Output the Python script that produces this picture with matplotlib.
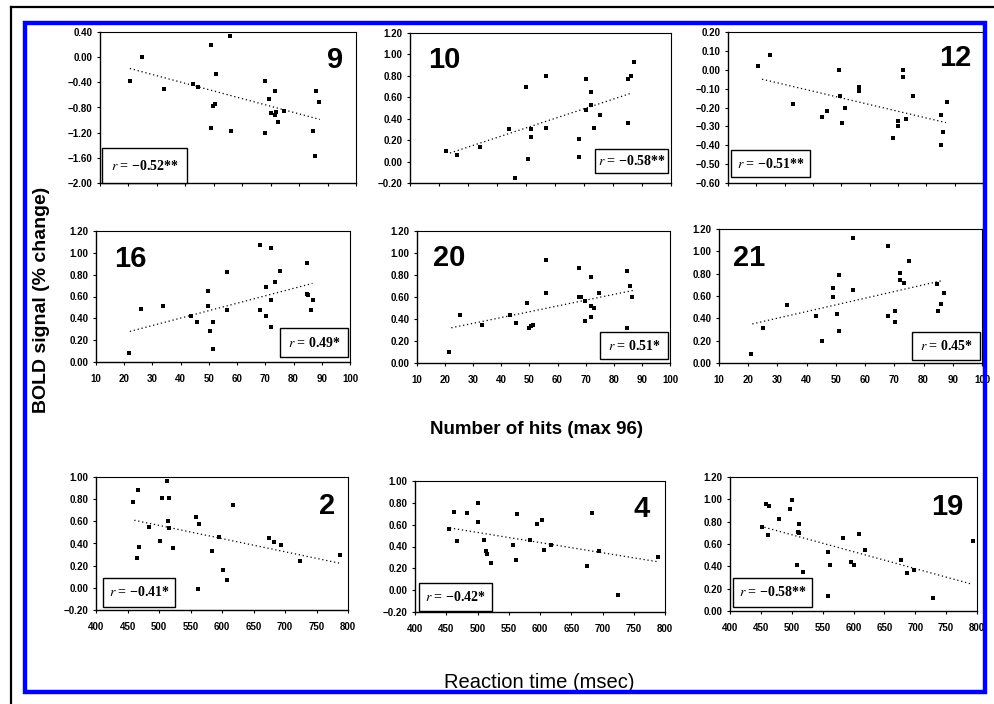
import numpy as np
import matplotlib.pyplot as plt
from matplotlib.patches import Rectangle
from matplotlib.lines import Line2D

# ── data ─────────────────────────────────────────────────────────────────────
# top two rows: number of hits (x) vs BOLD signal (y)
p9_x = [20.5, 24.6, 32.5, 42.6, 44.6, 48.9, 50.7, 55.7, 49.6, 50.4, 49.0, 55.9, 68.0,
        71.5, 69.5, 70.0, 71.5, 72.0, 72.7, 74.8, 68.0, 84.8, 85.5, 86.0, 87.0]
p9_y = [-0.38, 0.00, -0.50, -0.42, -0.48, 0.19, -0.26, 0.33, -0.78, -0.74, -1.13, -1.17, -0.38,
        -0.53, -0.66, -0.89, -0.92, -0.87, -1.03, -0.86, -1.20, -1.17, -1.57, -0.53, -0.71]
p9_fit = ([20.5, 87.3], [-0.18, -0.99])

p10_x = [22.4, 26.3, 34.1, 44.1, 46.2, 50.0, 50.8, 51.6, 51.7, 56.9, 56.9, 68.4,
         68.4, 70.7, 70.7, 72.4, 72.4, 73.4, 75.5, 85.2, 85.2, 86.2, 87.2]
p10_y = [0.10, 0.06, 0.14, 0.30, -0.15, 0.70, 0.02, 0.30, 0.23, 0.80, 0.31, 0.21,
         0.04, 0.77, 0.48, 0.65, 0.53, 0.31, 0.43, 0.36, 0.77, 0.80, 0.93]
p10_fit = ([23.8, 86.5], [0.08, 0.64])

p12_x = [20.7, 24.9, 33.1, 43.1, 44.9, 49.0, 49.6, 50.2, 51.4, 56.2, 56.3, 68.1,
         69.9, 69.9, 71.9, 71.9, 72.8, 75.2, 85.1, 85.1, 86.0, 87.2]
p12_y = [0.02, 0.08, -0.18, -0.25, -0.22, 0.00, -0.14, -0.28, -0.20, -0.09, -0.11, -0.36,
         -0.27, -0.30, 0.00, -0.04, -0.26, -0.14, -0.24, -0.40, -0.33, -0.17]
p12_fit = ([22.0, 86.9], [-0.05, -0.28])

p16_x = [21.8, 25.8, 33.8, 43.5, 45.7, 49.6, 49.6, 50.4, 51.6, 51.3, 56.5, 56.3, 68.1,
         68.1, 70.2, 70.2, 71.9, 71.9, 71.9, 73.4, 75.2, 84.9, 84.9, 85.2, 86.2, 87.0]
p16_y = [0.08, 0.49, 0.51, 0.42, 0.37, 0.65, 0.51, 0.28, 0.37, 0.12, 0.82, 0.48, 1.07,
         0.48, 0.69, 0.42, 1.04, 0.57, 0.32, 0.73, 0.83, 0.91, 0.62, 0.61, 0.48, 0.57]
p16_fit = ([22.0, 86.7], [0.28, 0.72])

p20_x = [21.4, 25.2, 33.3, 43.0, 45.2, 49.0, 49.9, 50.5, 51.1, 55.8, 55.8, 67.7, 67.7,
         68.2, 69.7, 69.7, 71.8, 71.8, 71.8, 73.0, 74.9, 84.6, 84.6, 85.8, 86.6]
p20_y = [0.10, 0.44, 0.35, 0.44, 0.36, 0.55, 0.32, 0.34, 0.35, 0.94, 0.64, 0.86, 0.60,
         0.60, 0.56, 0.38, 0.78, 0.52, 0.42, 0.50, 0.64, 0.84, 0.32, 0.70, 0.60]
p20_fit = ([22.2, 86.9], [0.32, 0.66])

p21_x = [21.1, 25.1, 33.3, 43.2, 45.1, 48.9, 48.9, 50.3, 51.2, 51.2, 56.0, 56.0, 68.0,
         68.0, 70.3, 70.3, 71.8, 71.8, 73.2, 74.9, 84.6, 84.8, 86.0, 87.1]
p21_y = [0.08, 0.31, 0.52, 0.42, 0.20, 0.67, 0.59, 0.44, 0.79, 0.29, 1.12, 0.65, 1.05,
         0.42, 0.47, 0.37, 0.81, 0.74, 0.72, 0.91, 0.71, 0.47, 0.53, 0.63]
p21_fit = ([21.4, 86.7], [0.35, 0.74])

# bottom row: reaction time (x) vs BOLD signal (y)
p2_x = [459.2, 467.1, 464.5, 468.2, 484.6, 501.5, 504.1, 512.1, 515.8, 514.7, 516.3, 522.6, 558.6,
        563.8, 562.3, 584.5, 595.6, 601.9, 607.2, 617.8, 674.8, 682.2, 694.4, 723.5, 786.9]
p2_y = [0.77, 0.88, 0.27, 0.37, 0.55, 0.42, 0.81, 0.96, 0.81, 0.60, 0.54, 0.36, 0.64,
        0.58, -0.01, 0.33, 0.46, 0.16, 0.07, 0.75, 0.45, 0.41, 0.39, 0.24, 0.30]
p2_fit = ([460.8, 788.5], [0.61, 0.22])

p4_x = [454.9, 462.4, 466.7, 482.7, 501.3, 500.3, 510.4, 513.1, 514.7, 521.6, 557.3, 561.6,
        562.7, 584.0, 594.7, 602.7, 606.9, 617.6, 674.7, 683.7, 694.9, 725.3, 789.3]
p4_y = [0.56, 0.72, 0.45, 0.71, 0.80, 0.62, 0.46, 0.36, 0.33, 0.25, 0.41, 0.28,
        0.70, 0.46, 0.61, 0.64, 0.37, 0.41, 0.22, 0.71, 0.36, -0.04, 0.30]
p4_fit = ([456.0, 788.7], [0.57, 0.26])

p19_x = [452.4, 458.4, 463.8, 462.2, 479.5, 497.3, 500.0, 509.2, 509.7, 512.4, 512.4, 518.9, 558.4,
         558.4, 562.2, 583.8, 595.7, 601.6, 608.1, 618.9, 677.3, 686.5, 698.4, 728.6, 793.5]
p19_y = [0.75, 0.96, 0.94, 0.68, 0.82, 0.91, 0.99, 0.41, 0.71, 0.78, 0.70, 0.35, 0.53,
         0.13, 0.41, 0.65, 0.44, 0.41, 0.69, 0.55, 0.46, 0.34, 0.37, 0.12, 0.63]
p19_fit = ([455.7, 791.9], [0.75, 0.24])

region_ids = ["9", "10", "12", "16", "20", "21", "2", "4", "19"]
r_labels = ["−0.52**", "−0.58**", "−0.51**", "0.49*", "0.51*", "0.45*",
            "−0.41*", "−0.42*", "−0.58**"]

yticks_9 = [0.40, 0.00, -0.40, -0.80, -1.20, -1.60, -2.00]
yticks_10 = [-0.20, 0.00, 0.20, 0.40, 0.60, 0.80, 1.00, 1.20]
yticks_12 = [0.20, 0.10, 0.00, -0.10, -0.20, -0.30, -0.40, -0.50, -0.60]
yticks_row2 = [0.00, 0.20, 0.40, 0.60, 0.80, 1.00, 1.20]
yticks_2 = [-0.20, 0.00, 0.20, 0.40, 0.60, 0.80, 1.00]
yticks_19 = [0.00, 0.20, 0.40, 0.60, 0.80, 1.00, 1.20]
hits_ticks = list(range(10, 101, 10))
rt_ticks = list(range(400, 801, 50))

# ── layout (pixels of the 994x704 canvas) ────────────────────────────────────
W, H = 994, 704
panels = [
    # data, fit, yticks, xticks, xlabels?, axes box (l, t, r, b), number pos, r-box (l, t, r, b)
    (p9_x, p9_y, p9_fit, yticks_9, hits_ticks, False, (100, 32, 356, 183), (335, 60), (102, 148, 187, 183)),
    (p10_x, p10_y, p10_fit, yticks_10, hits_ticks, False, (410, 33, 671, 183), (444, 60), (595, 149, 668, 173)),
    (p12_x, p12_y, p12_fit, yticks_12, hits_ticks, False, (728, 32, 983, 183), (955, 58), (731, 150, 810, 177)),
    (p16_x, p16_y, p16_fit, yticks_row2, hits_ticks, True, (96, 231, 350, 362), (130, 259), (280, 328, 348, 357)),
    (p20_x, p20_y, p20_fit, yticks_row2, hits_ticks, True, (417, 231, 670, 363), (449, 258), (600, 332, 668, 359)),
    (p21_x, p21_y, p21_fit, yticks_row2, hits_ticks, True, (719, 229, 982, 363), (749, 258), (912, 332, 980, 360)),
    (p2_x, p2_y, p2_fit, yticks_2, rt_ticks, True, (96, 477, 348, 610), (327, 506), (103, 578, 175, 607)),
    (p4_x, p4_y, p4_fit, yticks_2, rt_ticks, True, (415, 481, 665, 612), (642, 509), (419, 583, 492, 611)),
    (p19_x, p19_y, p19_fit, yticks_19, rt_ticks, True, (730, 477, 977, 611), (947, 507), (733, 578, 812, 607)),
]

plt.rcParams["font.family"] = ["Liberation Sans", "DejaVu Sans"]
plt.rcParams["mathtext.fontset"] = "stix"

fig = plt.figure(figsize=(W / 100, H / 100), dpi=100)
fig.patch.set_facecolor("white")


def fx(px):
    return px / W


def fy(py):
    return 1 - py / H


def fmt(v):
    s = f"{abs(v):.2f}"
    return ("−" + s) if v < -1e-9 else s


for (xs, ys, fit, yt, xt, show_x, box, npos, rbox), rid, rl in zip(panels, region_ids, r_labels):
    l, t, r, b = box
    ax = fig.add_axes([fx(l), fy(b), (r - l) / W, (b - t) / H])
    ax.set_xlim(xt[0], xt[-1])
    ax.set_ylim(min(yt), max(yt))
    ax.scatter(xs, ys, marker="s", s=8, color="black", linewidths=0, zorder=3)
    ax.plot(fit[0], fit[1], color="black", lw=0.9, linestyle=(0, (1, 2.2)), zorder=2)
    ax.set_yticks(yt)
    ax.set_yticklabels([fmt(v) for v in yt], fontsize=7, fontweight="bold")
    ax.set_xticks(xt)
    if show_x:
        ax.set_xticklabels([str(v) for v in xt], fontsize=7, fontweight="bold")
    else:
        ax.set_xticklabels([])
    ax.tick_params(axis="y", direction="out", length=2.5, width=0.8, pad=3, color="black")
    ax.tick_params(axis="x", direction="out", length=2.5, width=0.8, pad=6, color="black")
    for side, sp in ax.spines.items():
        sp.set_linewidth(1.0 if side in ("left", "bottom") else 0.8)
        sp.set_color("black")

    # panel number
    fig.text(fx(npos[0]), fy(npos[1]), rid, fontsize=21, fontweight="bold",
             ha="center", va="center")

    # correlation box
    bl, bt, br, bb = rbox
    fig.add_artist(Rectangle((fx(bl), fy(bb)), (br - bl) / W, (bb - bt) / H,
                             transform=fig.transFigure, facecolor="white",
                             edgecolor="black", lw=1.0, zorder=5))
    fig.text(fx((bl + br) / 2), fy((bt + bb) / 2), r"$r$ = " + rl, fontsize=10,
             fontweight="bold", family=["Liberation Serif", "DejaVu Serif"],
             ha="center", va="center", zorder=6)

# axis titles
fig.text(fx(42), fy(300), "BOLD signal (% change)", rotation=90, fontsize=14,
         fontweight="bold", ha="center", va="center")
fig.text(fx(537), fy(430), "Number of hits (max 96)", fontsize=13.5,
         fontweight="bold", ha="center", va="center")
fig.text(fx(539), fy(683), "Reaction time (msec)", fontsize=14.5,
         ha="center", va="center")

# blue frame and black scan edges
fig.add_artist(Rectangle((fx(25), fy(692)), (985 - 25) / W, (692 - 23) / H,
                         transform=fig.transFigure, fill=False,
                         edgecolor="#0000f5", lw=3.2, zorder=7))
fig.add_artist(Line2D([fx(11), 1], [fy(7), fy(7)], transform=fig.transFigure,
                      color="black", lw=1.6))
fig.add_artist(Line2D([fx(11), fx(11)], [0, fy(7)], transform=fig.transFigure,
                      color="black", lw=1.6))

fig.savefig("out.png", dpi=100)
